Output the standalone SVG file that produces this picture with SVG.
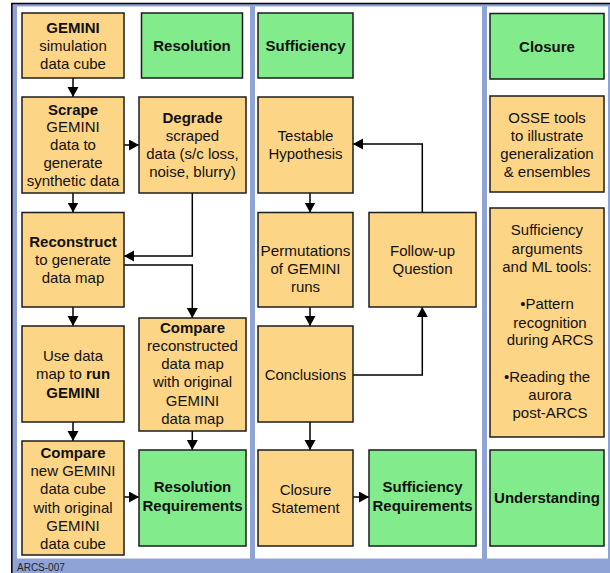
<svg xmlns="http://www.w3.org/2000/svg" width="610" height="573" viewBox="0 0 610 573">
<style>
.o{fill:#FDD587;stroke:#1c1c1c;stroke-width:1.5}
.g{fill:#82EC8C;stroke:#1c1c1c;stroke-width:1.5}
.t{font-family:"Liberation Sans",Arial,sans-serif;font-size:15px;fill:#111;text-anchor:middle}
.b{font-weight:bold}
.c{fill:none;stroke:#000;stroke-width:1.5}
</style>
<defs>
<marker id="ah" markerUnits="userSpaceOnUse" markerWidth="11" markerHeight="12" refX="10" refY="5.5" orient="auto">
<path d="M0,0 L10,5.5 L0,11 Z" fill="#000"/>
</marker>
</defs>
<g id="frame">
<rect x="12" y="4" width="598" height="569" fill="#8FA3D6"/>
<line x1="11" y1="3.6" x2="610" y2="3.6" stroke="#000" stroke-width="1.5"/>
<line x1="11.8" y1="3" x2="11.8" y2="573" stroke="#000" stroke-width="1.5"/>
<rect x="17" y="6.5" width="233" height="552" fill="#fff"/>
<rect x="255" y="6.5" width="227" height="552" fill="#fff"/>
<rect x="487" y="6.5" width="121" height="552" fill="#fff"/>
<text x="17" y="571" style="font-family:'Liberation Sans',Arial,sans-serif;font-size:10px;fill:#222">ARCS-007</text>
</g>
<g id="connectors">
<path class="c" marker-end="url(#ah)" d="M73,78 V97"/>
<path class="c" marker-end="url(#ah)" d="M124,145 H139"/>
<path class="c" marker-end="url(#ah)" d="M73,193 V212.5"/>
<path class="c" marker-end="url(#ah)" d="M192.3,193 V256 H124"/>
<path class="c" marker-end="url(#ah)" d="M124,265 H192.3 V318"/>
<path class="c" marker-end="url(#ah)" d="M73,307 V326"/>
<path class="c" marker-end="url(#ah)" d="M192.3,431 V450"/>
<path class="c" marker-end="url(#ah)" d="M73,422 V441"/>
<path class="c" marker-end="url(#ah)" d="M124,497 H139"/>
<path class="c" marker-end="url(#ah)" d="M310,193 V212.5"/>
<path class="c" marker-end="url(#ah)" d="M310,307 V326"/>
<path class="c" marker-end="url(#ah)" d="M353,375 H422.3 V307"/>
<path class="c" marker-end="url(#ah)" d="M422.3,212.5 V144 H353"/>
<path class="c" marker-end="url(#ah)" d="M310,422 V450"/>
<path class="c" marker-end="url(#ah)" d="M353,497 H369"/>
</g>
<g id="gemini-cube">
<rect class="o" x="22" y="13" width="102" height="65"/>
<text class="t b" x="73" y="33.3">GEMINI</text>
<text class="t" x="73" y="51.3">simulation</text>
<text class="t" x="73" y="69.3">data cube</text>
</g>
<g id="resolution">
<rect class="g" x="141.5" y="13" width="101" height="65"/>
<text class="t b" x="192" y="51.3">Resolution</text>
</g>
<g id="scrape">
<rect class="o" x="22" y="97" width="102" height="96"/>
<text class="t b" x="73" y="114.8">Scrape</text>
<text class="t" x="73" y="132.3">GEMINI</text>
<text class="t" x="73" y="150.3">data to</text>
<text class="t" x="73" y="168.3">generate</text>
<text class="t" x="73" y="186">synthetic data</text>
</g>
<g id="degrade">
<rect class="o" x="139" y="97" width="107" height="96"/>
<text class="t b" x="192.5" y="122.8">Degrade</text>
<text class="t" x="192.5" y="140.6">scraped</text>
<text class="t" x="192.5" y="158.8">data (s/c loss,</text>
<text class="t" x="192.5" y="176.8">noise, blurry)</text>
</g>
<g id="reconstruct">
<rect class="o" x="22" y="212.5" width="102" height="94.5"/>
<text class="t b" x="73" y="247.3">Reconstruct</text>
<text class="t" x="73" y="264.8">to generate</text>
<text class="t" x="73" y="282.8">data map</text>
</g>
<g id="compare-map">
<rect class="o" x="139" y="318" width="107" height="113"/>
<text class="t b" x="192.5" y="333">Compare</text>
<text class="t" x="192.5" y="351">reconstructed</text>
<text class="t" x="192.5" y="369.3">data map</text>
<text class="t" x="192.5" y="387.3">with original</text>
<text class="t" x="192.5" y="405.8">GEMINI</text>
<text class="t" x="192.5" y="423.8">data map</text>
</g>
<g id="run-gemini">
<rect class="o" x="22" y="326" width="102" height="96"/>
<text class="t" x="73" y="361.3">Use data</text>
<text class="t" x="73" y="379.3">map to <tspan class="b">run</tspan></text>
<text class="t b" x="73" y="397.8">GEMINI</text>
</g>
<g id="compare-cube">
<rect class="o" x="22" y="441" width="102" height="114"/>
<text class="t b" x="73" y="458.3">Compare</text>
<text class="t" x="73" y="476.3">new GEMINI</text>
<text class="t" x="73" y="494.3">data cube</text>
<text class="t" x="73" y="512.8">with original</text>
<text class="t" x="73" y="530.8">GEMINI</text>
<text class="t" x="73" y="548.8">data cube</text>
</g>
<g id="resolution-req">
<rect class="g" x="139" y="450" width="107" height="96"/>
<text class="t b" x="192.5" y="492.3">Resolution</text>
<text class="t b" x="192.5" y="510.8">Requirements</text>
</g>
<g id="sufficiency">
<rect class="g" x="258" y="13" width="95" height="65"/>
<text class="t b" x="305.5" y="51.3">Sufficiency</text>
</g>
<g id="hypothesis">
<rect class="o" x="258" y="97" width="95" height="96"/>
<text class="t" x="305.5" y="141.3">Testable</text>
<text class="t" x="305.5" y="158.8">Hypothesis</text>
</g>
<g id="permutations">
<rect class="o" x="258" y="212.5" width="95" height="94.5"/>
<text class="t" x="305.5" y="256.3" textLength="90" lengthAdjust="spacingAndGlyphs">Permutations</text>
<text class="t" x="305.5" y="274.3">of GEMINI</text>
<text class="t" x="305.5" y="292.3">runs</text>
</g>
<g id="followup">
<rect class="o" x="369" y="212.5" width="107" height="94.5"/>
<text class="t" x="422.5" y="256.3">Follow-up</text>
<text class="t" x="422.5" y="274.3">Question</text>
</g>
<g id="conclusions">
<rect class="o" x="258" y="326" width="95" height="96"/>
<text class="t" x="305.5" y="379.8">Conclusions</text>
</g>
<g id="closure-statement">
<rect class="o" x="258" y="450" width="95" height="96"/>
<text class="t" x="305.5" y="494.6">Closure</text>
<text class="t" x="305.5" y="512.6">Statement</text>
</g>
<g id="sufficiency-req">
<rect class="g" x="369" y="450" width="107" height="96"/>
<text class="t b" x="422.5" y="492.3">Sufficiency</text>
<text class="t b" x="422.5" y="510.8">Requirements</text>
</g>
<g id="closure">
<rect class="g" x="490" y="13.5" width="114" height="65.5"/>
<text class="t b" x="547" y="51.8">Closure</text>
</g>
<g id="osse">
<rect class="o" x="490" y="96" width="114" height="96"/>
<text class="t" x="547" y="122.8">OSSE tools</text>
<text class="t" x="547" y="140.8">to illustrate</text>
<text class="t" x="547" y="158.8">generalization</text>
<text class="t" x="547" y="176.8">&amp; ensembles</text>
</g>
<g id="ml-tools">
<rect class="o" x="490" y="208" width="114" height="229"/>
<text class="t" x="547" y="235.3">Sufficiency</text>
<text class="t" x="547" y="253.6">arguments</text>
<text class="t" x="547" y="272">and ML tools:</text>
<text class="t" x="547" y="309.3">•Pattern</text>
<text class="t" x="550" y="327.6">recognition</text>
<text class="t" x="550" y="345.3">during ARCS</text>
<text class="t" x="547" y="382">•Reading the</text>
<text class="t" x="550" y="399.6">aurora</text>
<text class="t" x="550" y="417.6">post-ARCS</text>
</g>
<g id="understanding">
<rect class="g" x="490" y="450" width="114" height="96"/>
<text class="t b" x="547" y="503.3">Understanding</text>
</g>
</svg>
